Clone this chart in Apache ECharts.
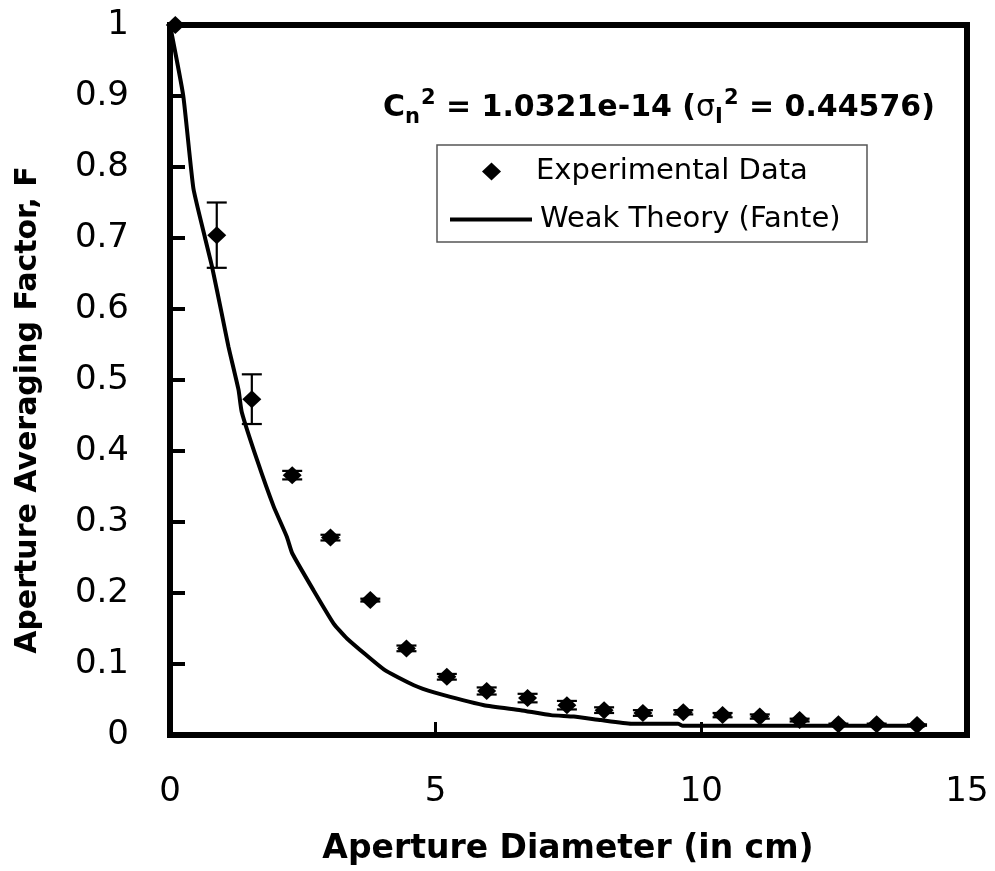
<!DOCTYPE html>
<html>
<head>
<meta charset="utf-8">
<script src="https://cdn.jsdelivr.net/npm/echarts@6/dist/echarts.min.js"></script>
<style>
html,body{margin:0;padding:0;background:#fff;}
#chart{width:995px;height:871px;}
</style>
</head>
<body>
<div id="chart"></div>
<script>
// ---- data ----
var expX   = [0.10, 0.88, 1.54, 2.30, 3.02, 3.77, 4.45, 5.21, 5.96, 6.73, 7.47, 8.17, 8.90, 9.66, 10.40, 11.10, 11.85, 12.58, 13.30, 14.06];
var expY   = [1.000, 0.704, 0.473, 0.366, 0.278, 0.190, 0.122, 0.082, 0.062, 0.052, 0.042, 0.035, 0.031, 0.032, 0.028, 0.026, 0.021, 0.015, 0.015, 0.014];
var expErr = [0, 0.046, 0.035, 0.006, 0.004, 0.002, 0.004, 0.004, 0.005, 0.006, 0.006, 0.004, 0.004, 0.003, 0.003, 0.003, 0.002, 0.001, 0.001, 0.001];

var theoryX = [0, 0.25, 0.44, 0.66, 0.79, 0.97, 1.10, 1.29, 1.35, 1.64, 1.95, 2.20, 2.30, 2.70, 3.08, 3.33, 4.03, 4.59, 4.97, 5.91, 6.60, 7.17, 7.60, 8.11, 8.68, 9.56, 9.65, 14.20];
var theoryY = [1.000, 0.900, 0.770, 0.700, 0.660, 0.595, 0.547, 0.486, 0.455, 0.387, 0.322, 0.279, 0.256, 0.204, 0.157, 0.136, 0.092, 0.070, 0.060, 0.042, 0.035, 0.028, 0.026, 0.021, 0.016, 0.016, 0.013, 0.013];

var xTickLabels = ['0', '5', '10', '15'];
var yTickLabels = ['0', '0.1', '0.2', '0.3', '0.4', '0.5', '0.6', '0.7', '0.8', '0.9', '1'];

var seriesNames = ['Experimental Data', 'Weak Theory (Fante)'];
var xTitle = 'Aperture Diameter (in cm)';
var yTitle = 'Aperture Averaging Factor, F';

// ---- build ----
var FONT = "'DejaVu Sans', 'Liberation Sans', Arial, sans-serif";
var expData = expX.map(function (x, i) { return [x, expY[i]]; });
var errData = expX.map(function (x, i) { return [x, expY[i], expErr[i]]; });
var theoryData = theoryX.map(function (x, i) { return [x, theoryY[i]]; });

var chart = echarts.init(document.getElementById('chart'), null, {renderer: 'canvas'});
var legendText = {color: '#000', fontSize: 29, fontFamily: FONT};
var option = {
  backgroundColor: '#ffffff',
  animation: false,
  grid: {
    left: 170, right: 28, top: 25, bottom: 136,
    show: true, borderColor: '#000', borderWidth: 6, backgroundColor: 'transparent'
  },
  xAxis: {
    type: 'value', min: 0, max: 15, interval: 5,
    axisLine: {show: true, lineStyle: {color: '#000', width: 6}},
    axisTick: {show: true, inside: true, length: 13, lineStyle: {color: '#000', width: 3}},
    splitLine: {show: false},
    axisLabel: {
      margin: 40, color: '#000', fontSize: 34, fontFamily: FONT,
      formatter: function (v) { return xTickLabels[Math.round(v / 5)]; }
    }
  },
  yAxis: {
    type: 'value', min: 0, max: 1, interval: 0.1,
    axisLine: {show: true, lineStyle: {color: '#000', width: 6}},
    axisTick: {show: true, inside: true, length: 15, lineStyle: {color: '#000', width: 4}},
    splitLine: {show: false},
    axisLabel: {
      margin: 41, color: '#000', fontSize: 34, fontFamily: FONT,
      formatter: function (v) { return yTickLabels[Math.round(v * 10)]; }
    }
  },
  legend: [
    {
      data: [{name: seriesNames[0], icon: 'diamond'}],
      left: 482, top: 157,
      padding: 0,
      itemWidth: 19, itemHeight: 18,
      textStyle: Object.assign({padding: [0, 0, 0, 30]}, legendText),
      selectedMode: false
    },
    {
      data: [{name: seriesNames[1], icon: 'rect'}],
      left: 450, top: 205,
      padding: 0,
      itemWidth: 82, itemHeight: 4,
      itemStyle: {color: '#000'},
      textStyle: Object.assign({padding: [0, 0, 0, 3]}, legendText),
      selectedMode: false
    }
  ],
  series: [
    {
      name: seriesNames[1],
      type: 'line',
      data: theoryData,
      symbol: 'none',
      smooth: 0.15,
      lineStyle: {color: '#000', width: 4},
      itemStyle: {color: '#000'},
      z: 2
    },
    {
      name: 'errorbars',
      type: 'custom',
      data: errData,
      encode: {x: 0, y: 1},
      z: 3,
      renderItem: function (params, api) {
        var x = api.value(0), y = api.value(1), e = api.value(2);
        if (!e) return null;
        var top = api.coord([x, y + e]);
        var bot = api.coord([x, y - e]);
        var hw = 10;
        var st = {stroke: '#000', lineWidth: 2.2};
        return {
          type: 'group',
          children: [
            {type: 'line', shape: {x1: top[0], y1: top[1], x2: bot[0], y2: bot[1]}, style: st},
            {type: 'line', shape: {x1: top[0] - hw, y1: top[1], x2: top[0] + hw, y2: top[1]}, style: st},
            {type: 'line', shape: {x1: bot[0] - hw, y1: bot[1], x2: bot[0] + hw, y2: bot[1]}, style: st}
          ]
        };
      }
    },
    {
      name: seriesNames[0],
      type: 'scatter',
      data: expData,
      symbol: 'diamond',
      symbolSize: [19, 18],
      itemStyle: {color: '#000', opacity: 1},
      z: 4
    }
  ],
  graphic: [
    {
      type: 'rect',
      shape: {x: 437, y: 145, width: 430, height: 97},
      style: {fill: 'none', stroke: '#555', lineWidth: 1.5},
      z: 10
    },
    {
      type: 'text',
      x: 383, y: 108,
      style: {
        text: '{b|C}{sub|n}{sup|2}{b| = 1.0321e-14 (}{sym|σ}{sub|I}{sup|2}{b| = 0.44576)}',
        align: 'left', verticalAlign: 'middle',
        textAlign: 'left', textVerticalAlign: 'middle',
        rich: {
          b: {fontSize: 30, fontWeight: 'bold', fontFamily: FONT, fill: '#000', color: '#000', lineHeight: 40, verticalAlign: 'middle'},
          sup: {fontSize: 21, fontWeight: 'bold', fontFamily: FONT, fill: '#000', color: '#000', lineHeight: 21, verticalAlign: 'top', padding: [0, 0, 0, 1]},
          sub: {fontSize: 21, fontWeight: 'bold', fontFamily: FONT, fill: '#000', color: '#000', lineHeight: 21, verticalAlign: 'bottom'},
          sym: {fontSize: 30, fontWeight: 'normal', fontFamily: FONT, fill: '#000', color: '#000', lineHeight: 40, verticalAlign: 'middle'}
        }
      },
      z: 10
    },
    {
      type: 'text',
      x: 568, y: 849,
      style: {
        text: xTitle, fill: '#000',
        font: "bold 33px " + FONT,
        align: 'center', verticalAlign: 'middle',
        textAlign: 'center', textVerticalAlign: 'middle'
      }
    },
    {
      type: 'text',
      x: 28, y: 410,
      rotation: Math.PI / 2,
      style: {
        text: yTitle, fill: '#000',
        font: "bold 30px " + FONT,
        align: 'center', verticalAlign: 'middle',
        textAlign: 'center', textVerticalAlign: 'middle'
      }
    }
  ]
};
chart.setOption(option);
</script>
</body>
</html>
